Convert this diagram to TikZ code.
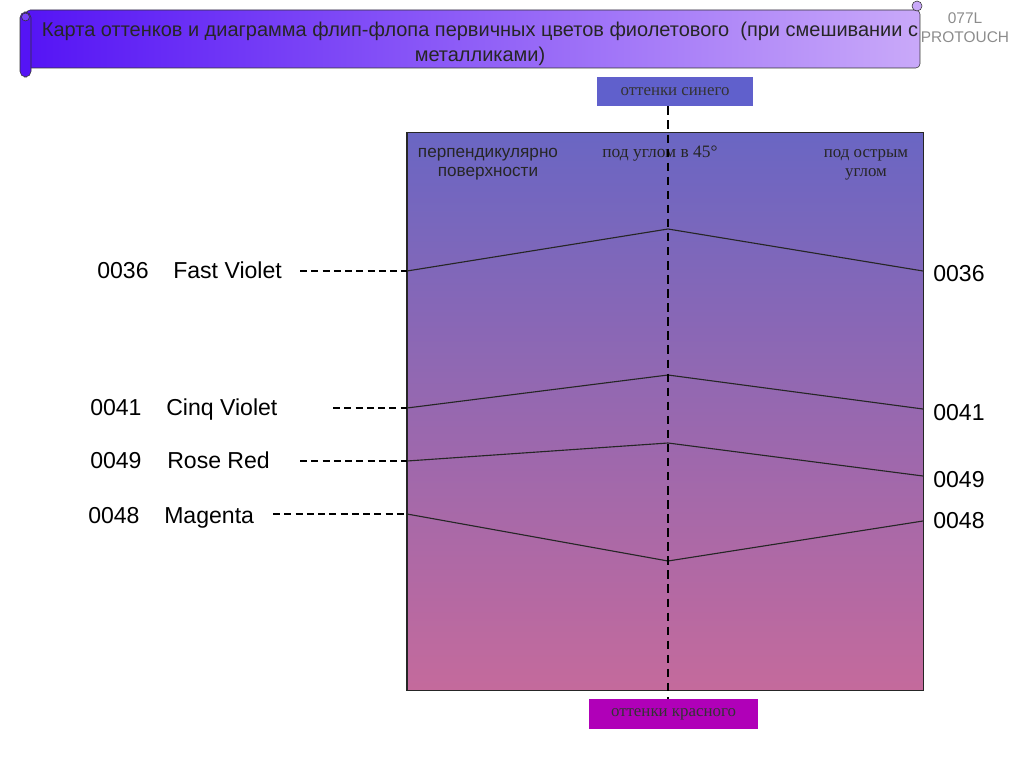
\documentclass[tikz,border=0pt]{standalone}
\usepackage{fontspec}
\setmainfont{Liberation Serif}
\setsansfont{Liberation Sans}
\usetikzlibrary{positioning}
\definecolor{Scroll}{HTML}{5514F5}
\definecolor{ScrollEnd}{HTML}{C9A9F9}
\definecolor{BlueTop}{HTML}{6A66C3}
\definecolor{RedBottom}{HTML}{C46A9C}
\definecolor{BlueTag}{HTML}{6060CC}
\definecolor{RedTag}{HTML}{B000B8}
\definecolor{Brand}{HTML}{8C8C8C}

\begin{document}
\begin{tikzpicture}[x=0.025cm,y=-0.025cm, every node/.style={font=\sffamily,inner sep=0pt},
code/.style={font=\sffamily\fontsize{16.4}{19}\selectfont,anchor=west,text height=1.6ex,text depth=.4ex,yshift=-0.1cm},
tag/.style={minimum height=0.73cm,font=\rmfamily\fontsize{12}{14}\selectfont,text=black!80},
head/.style={align=center,text=black!85},
curve/.style={black!85,line width=0.8pt},
lead/.style={black,dash pattern=on 5pt off 3pt,line width=1pt}]
\useasboundingbox (0,0) rectangle (1024,768);
% title scroll
\shade[left color=Scroll,right color=ScrollEnd,draw=black!80,rounded corners=3pt] (26,10) rectangle (920,68);
\filldraw[fill=ScrollEnd,draw=black!80] (917,6) circle (5);
\filldraw[fill=Scroll,draw=black!80,rounded corners=4pt] (20,12) rectangle (31,77);
\filldraw[fill=Scroll!80,draw=black!80] (25.5,17) circle (4);
\node[align=center,font=\sffamily\fontsize{14.2}{18}\selectfont,text=black!85] (title) at (480,44)
  {Карта оттенков и диаграмма флип-флопа первичных цветов фиолетового~~(при смешивании с\\металликами)};
\node[align=center,font=\sffamily\fontsize{11}{13.5}\selectfont,text=Brand] (brand) at (965,28) {077L\\PROTOUCH};
% panel
\shade[top color=BlueTop,bottom color=RedBottom] (407,133) rectangle (923,690);
\node[draw=black!85,line width=0.8pt,minimum width=12.9cm,minimum height=13.925cm] (panel) at (665,411.5) {};
\node[tag,fill=BlueTag,minimum width=3.9cm] (blue) at (675,91.5) {оттенки синего};
\node[tag,fill=RedTag,minimum width=4.225cm] (red) at (673.5,714) {оттенки красного};
\node[head,font=\sffamily\fontsize{12.2}{13.5}\selectfont] (perp) at (488,164) {перпендикулярно\\поверхности};
\node[head,font=\rmfamily\fontsize{12.4}{14}\selectfont] (mid) at (660,154) {под углом в 45°};
\node[head,font=\rmfamily\fontsize{12}{13.5}\selectfont] (acute) at (866,165) {под острым\\углом};
% flip-flop curves
\foreach \id/\l/\m/\r in {36/271/229/271,41/408/375/409,49/461/443/476,48/514/561/521}{
  \coordinate (l\id) at (407,\l); \coordinate (m\id) at (668,\m); \coordinate (r\id) at (923,\r);
  \draw[curve] (l\id)--(m\id)--(r\id);}
\draw[lead,line width=1.4pt,dash pattern=on 6pt off 4pt] (blue.south -| m36) -- (red.north -| m36);
% colour codes
\node[code] (c36) at (97,271) {0036}; \node[code] (n36) at (173,271) {Fast Violet};
\node[code] (c41) at (90,408) {0041}; \node[code] (n41) at (166,408) {Cinq Violet};
\node[code] (c49) at (90,461) {0049}; \node[code] (n49) at (167,461) {Rose Red};
\node[code] (c48) at (88,516) {0048}; \node[code] (n48) at (164,516) {Magenta};
\coordinate (s36) at (300,271); \coordinate (s41) at (333,408);
\coordinate (s49) at (300,461); \coordinate (s48) at (273,514);
\foreach \id in {36,41,49,48}{\draw[lead] (s\id)--(l\id);}
\node[code] (k36) at (933,274) {0036};
\node[code] (k41) at (933,413) {0041};
\node[code] (k49) at (933,480) {0049};
\node[code] (k48) at (933,521) {0048};
\end{tikzpicture}
\end{document}
